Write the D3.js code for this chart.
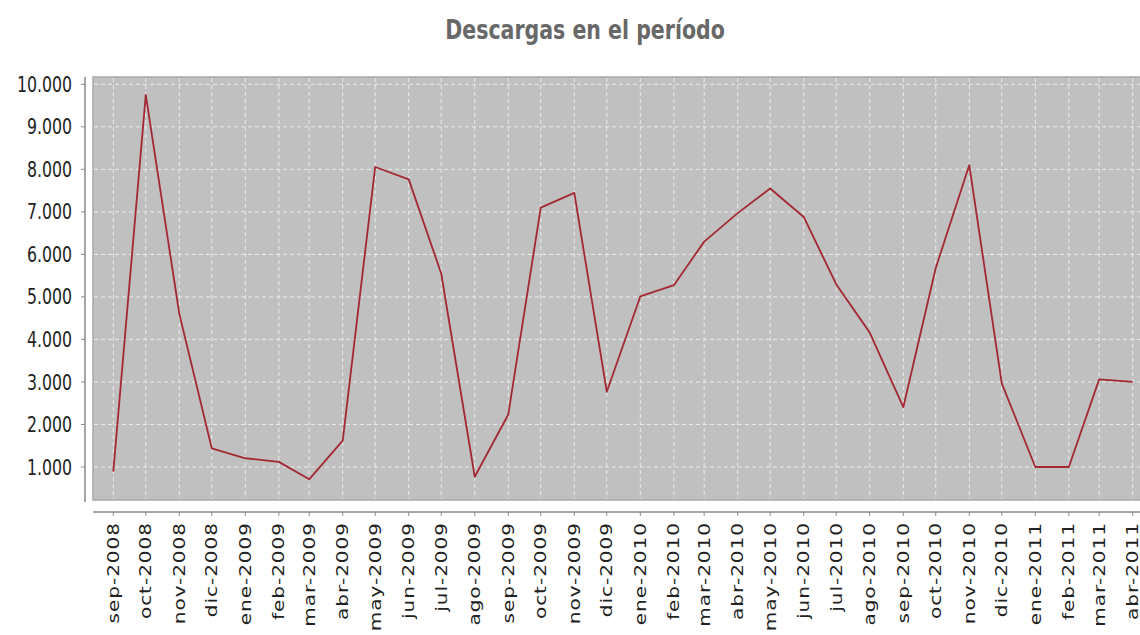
<!DOCTYPE html>
<html>
<head>
<meta charset="utf-8">
<script src="https://cdn.jsdelivr.net/npm/d3@7"></script>
<style>
  body { margin: 0; background: #fff; }
  svg { display: block; font-family: "DejaVu Sans", sans-serif; }
</style>
</head>
<body>
<div id="container"></div>
<script>
// months shown on the axis and the downloads for each one
const months = ['sep-2008', 'oct-2008', 'nov-2008', 'dic-2008', 'ene-2009', 'feb-2009', 'mar-2009', 'abr-2009',
  'may-2009', 'jun-2009', 'jul-2009', 'ago-2009', 'sep-2009', 'oct-2009', 'nov-2009', 'dic-2009',
  'ene-2010', 'feb-2010', 'mar-2010', 'abr-2010', 'may-2010', 'jun-2010', 'jul-2010', 'ago-2010',
  'sep-2010', 'oct-2010', 'nov-2010', 'dic-2010', 'ene-2011', 'feb-2011', 'mar-2011', 'abr-2011'];
const downloads = [890, 9750, 4600, 1440, 1205, 1120, 710, 1620,
  8055, 7765, 5550, 770, 2235, 7100, 7445, 2770,
  5010, 5275, 6300, 6970, 7550, 6880, 5300, 4160,
  2405, 5680, 8100, 2965, 1000, 1000, 3060, 3000];
const yTicks = [1000, 2000, 3000, 4000, 5000, 6000, 7000, 8000, 9000, 10000];

const W = 1140, H = 635;
const sx = 0.75; // the whole picture is squeezed horizontally
const plot = { left: 93, top: 77, right: 1170, bottom: 500 };

const monthIdx = { ene: 0, feb: 1, mar: 2, abr: 3, may: 4, jun: 5, jul: 6, ago: 7, sep: 8, oct: 9, nov: 10, dic: 11 };
function parseMonth(s) {
    var p = s.split('-');
    return new Date(Date.UTC(+p[1], monthIdx[p[0]], 1));
}
const data = months.map(function (m, i) { return { label: m, date: parseMonth(m), value: downloads[i] }; });

const svg = d3.select('#container')
    .append('svg')
    .attr('width', W)
    .attr('height', H);

var xScale = d3.scaleUtc()
    .domain([data[0].date, data[data.length - 1].date])
    .range([113.3, 1132.7]);

var yScale = d3.scaleLinear()
    .domain([0, 10000])
    .range([509.5, 84.3]);

var fmt = d3.formatLocale({ decimal: ',', thousands: '.', grouping: [3], currency: ['', ''] }).format(',d');

// title
svg.append('text')
    .attr('transform', 'translate(585,39) scale(0.79,1)')
    .style('text-anchor', 'middle')
    .style('font-size', '26px')
    .style('font-weight', 'bold')
    .style('fill', '#686868')
    .text('Descargas en el período');

// plot background
svg.append('rect')
    .attr('x', plot.left)
    .attr('y', plot.top)
    .attr('width', plot.right - plot.left)
    .attr('height', plot.bottom - plot.top)
    .style('fill', '#c0c0c0')
    .style('stroke', '#a8a8a8')
    .style('stroke-width', 1.5);

var grid = svg.append('g').attr('class', 'grid');
grid.selectAll('.hgrid')
    .data(yTicks)
    .enter()
    .append('line')
    .attr('x1', plot.left + 1)
    .attr('x2', plot.right)
    .attr('y1', function (d) { return yScale(d); })
    .attr('y2', function (d) { return yScale(d); })
    .style('stroke', '#ececec')
    .style('stroke-dasharray', '4,3');

grid.selectAll('.vgrid')
    .data(data)
    .enter()
    .append('line')
    .attr('x1', function (d) { return xScale(d.date); })
    .attr('x2', function (d) { return xScale(d.date); })
    .attr('y1', plot.top + 1)
    .attr('y2', plot.bottom - 1)
    .style('stroke', '#ececec')
    .style('stroke-dasharray', '4,3');

// y axis
var yAxis = svg.append('g').attr('transform', 'translate(85,0)');
yAxis.append('line')
    .attr('x1', 0).attr('x2', 0)
    .attr('y1', plot.top).attr('y2', plot.bottom + 2)
    .style('stroke', '#8a8a8a')
    .style('stroke-width', 1.5);
var yt = yAxis.selectAll('.ytick')
    .data(yTicks)
    .enter()
    .append('g')
    .attr('transform', function (d) { return 'translate(0,' + yScale(d) + ')'; });
yt.append('line')
    .attr('x1', -4).attr('x2', 0)
    .style('stroke', '#8a8a8a');
yt.append('text')
    .attr('transform', 'translate(-13,0) scale(' + sx + ',1)')
    .attr('dy', '0.36em')
    .style('text-anchor', 'end')
    .style('font-size', '21px')
    .style('fill', '#222')
    .text(function (d) { return fmt(d); });

// x axis
var xAxis = svg.append('g').attr('transform', 'translate(0,512)');
xAxis.append('line')
    .attr('x1', plot.left).attr('x2', W)
    .style('stroke', '#8a8a8a')
    .style('stroke-width', 1.5);
var xt = xAxis.selectAll('.xtick')
    .data(data)
    .enter()
    .append('g')
    .attr('transform', function (d) { return 'translate(' + xScale(d.date) + ',0)'; });
xt.append('line')
    .attr('y1', 0).attr('y2', 4)
    .style('stroke', '#8a8a8a');
xt.append('text')
    .attr('transform', 'translate(0,10) scale(' + sx + ',1) rotate(-90)')
    .attr('dy', '0.36em')
    .style('text-anchor', 'end')
    .style('font-size', '20px')
    .style('letter-spacing', '1px')
    .style('fill', '#222')
    .text(function (d) { return d.label; });

// line
var line = d3.line()
    .x(function (d) { return xScale(d.date); })
    .y(function (d) { return yScale(d.value); });

svg.append('path')
    .datum(data)
    .attr('d', line)
    .style('fill', 'none')
    .style('stroke', '#a32832')
    .style('stroke-width', 1.8)
    .style('stroke-linejoin', 'round');
</script>
</body>
</html>
